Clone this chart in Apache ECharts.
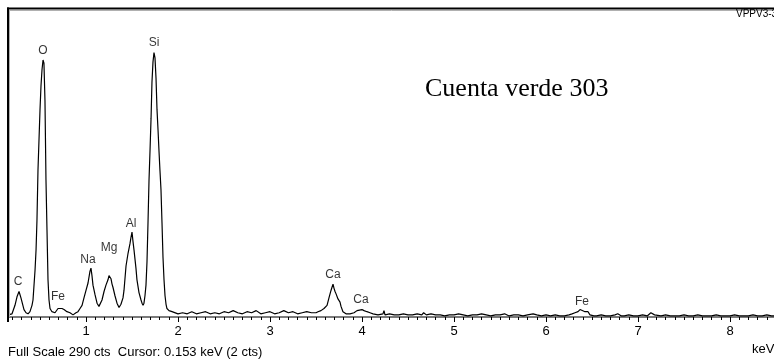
<!DOCTYPE html>
<html>
<head>
<meta charset="utf-8">
<script src="https://cdn.jsdelivr.net/npm/echarts@6/dist/echarts.min.js"></script>
<style>
  html, body { margin: 0; padding: 0; background: #fff; }
  #chart { width: 774px; height: 360px; }
</style>
</head>
<body>
<div id="chart"></div>
<script>
// EDS spectrum: [energy keV, counts]
const carbonOxygen = [
  [0.152,2],[0.196,3],[0.228,11],[0.25,19],[0.272,24],[0.293,18],[0.326,7],[0.348,4],[0.37,3],[0.391,5],
  [0.413,11],[0.424,16],[0.446,44],[0.457,63],[0.467,91],[0.478,138],[0.5,195],[0.511,218],[0.522,233],
  [0.533,242],[0.543,239],[0.554,204],[0.565,129],[0.576,82],[0.587,35],[0.598,16],[0.609,8],[0.63,5],[0.663,4]
];
const ironL = [
  [0.696,8],[0.717,9],[0.739,8],[0.761,7],[0.793,5],[0.826,4],[0.859,2],[0.891,4]
];
const sodiumMagnesium = [
  [0.913,5],[0.935,8],[0.957,11],[0.978,18],[1.0,25],[1.022,32],[1.043,43],[1.054,46],[1.065,39],[1.076,30],
  [1.098,21],[1.12,13],[1.141,10],[1.152,9],
  [1.174,16],[1.196,24],[1.217,30],[1.239,35],[1.25,39],[1.272,36],[1.283,31],[1.293,28],[1.315,20],[1.337,13],
  [1.359,9],[1.37,8]
];
const aluminiumSilicon = [
  [1.38,12],[1.402,18],[1.413,25],[1.435,48],[1.457,60],[1.478,69],[1.489,75],[1.5,80],[1.511,71],[1.522,63],
  [1.543,46],[1.554,35],[1.576,23],[1.598,16],[1.609,13],[1.62,11],
  [1.63,13],[1.641,20],[1.652,30],[1.663,52],[1.674,89],[1.685,129],[1.696,157],[1.707,187],[1.717,221],
  [1.728,240],[1.739,249],[1.75,244],[1.761,225],[1.772,195],[1.783,176],[1.793,157],[1.804,138],[1.815,120],
  [1.826,89],[1.837,56],[1.848,35],[1.859,20],[1.87,12],[1.88,8],[1.902,6],[1.935,5]
];
const backgroundMid = [
  [1.95,4],[2.0,3],[2.05,4],[2.1,3],[2.15,5],[2.2,3],[2.25,4],[2.3,5],[2.35,3],[2.4,4],[2.45,3],[2.5,5],
  [2.55,4],[2.6,6],[2.65,4],[2.7,3],[2.75,5],[2.8,4],[2.85,6],[2.9,3],[2.95,4],[3.0,5],[3.05,3],[3.1,4],
  [3.15,6],[3.2,4],[3.25,5],[3.3,3],[3.35,4],[3.4,5],[3.45,4],[3.5,4]
];
const calcium = [
  [3.522,5],[3.554,6],[3.587,8],[3.62,11],[3.641,18],[3.663,25],[3.674,28],[3.685,31],[3.696,27],[3.707,24],
  [3.717,22],[3.739,17],[3.761,14],[3.772,10],[3.793,5],[3.826,3],[3.87,3],[3.913,4],[3.946,6],[3.967,7],
  [4.0,7],[4.022,6],[4.054,5],[4.087,4],[4.12,3],[4.174,2],[4.228,3],[4.239,6],[4.25,2]
];
const backgroundHigh = [
  [4.3,3],[4.35,2],[4.4,2],[4.45,3],[4.5,2],[4.55,2],[4.6,3],[4.65,2],[4.67,4],[4.7,2],[4.75,3],[4.8,2],
  [4.85,2],[4.9,1],[4.95,2],[5.0,2],[5.05,3],[5.1,2],[5.15,1],[5.2,2],[5.25,2],[5.3,3],[5.35,2],[5.4,1],
  [5.45,2],[5.5,2],[5.55,3],[5.6,1],[5.65,2],[5.7,2],[5.75,1],[5.8,2],[5.86,3],[5.9,2],[5.95,1],[6.0,2],
  [6.05,1],[6.1,2],[6.15,1],[6.2,1],[6.25,2]
];
const ironK = [
  [6.283,3],[6.315,4],[6.348,5],[6.37,7],[6.391,6],[6.424,5],[6.457,5],[6.478,2]
];
const backgroundTail = [
  [6.52,1],[6.55,1],[6.6,2],[6.65,1],[6.7,1],[6.75,2],[6.78,3],[6.82,1],[6.85,1],[6.9,2],[6.95,1],[7.0,1],
  [7.05,2],[7.1,1],[7.14,4],[7.18,2],[7.2,1],[7.25,1],[7.3,2],[7.35,1],[7.4,1],[7.45,1],[7.5,2],[7.55,1],
  [7.6,1],[7.65,2],[7.7,1],[7.75,1],[7.8,1],[7.85,2],[7.9,1],[7.95,1],[8.0,1],[8.05,2],[8.1,1],[8.15,1],
  [8.2,1],[8.25,2],[8.3,1],[8.35,1],[8.4,2],[8.45,1],[8.5,1]
];

// Element line labels and where they sit (keV, counts)
const peakNames = ['C', 'O', 'Fe', 'Na', 'Mg', 'Al', 'Si', 'Ca', 'Ca', 'Fe'];
const peakKeV   = [0.261, 0.533, 0.696, 1.022, 1.25, 1.489, 1.739, 3.685, 3.989, 6.391];
const peakCts   = [33, 251, 19, 54, 65, 88, 258, 40, 16, 14];

const xTicksMin = 0, xTicksMax = 8.5, xInterval = 1;
const fullScale = 290;

const spectrum = [].concat(carbonOxygen, ironL, sodiumMagnesium, aluminiumSilicon,
  backgroundMid, calcium, backgroundHigh, ironK, backgroundTail);

const chart = echarts.init(document.getElementById('chart'), null, { renderer: 'canvas' });
const sans = 'Liberation Sans, Arial, sans-serif';

chart.setOption({
  animation: false,
  backgroundColor: '#fff',
  grid: { left: -6, right: -2, top: 9, bottom: 43, containLabel: false, outerBoundsMode: 'none' },
  xAxis: {
    type: 'value',
    min: xTicksMin, max: xTicksMax, interval: xInterval,
    axisLine: { show: true, lineStyle: { color: '#7a7a7a', width: 2 } },
    axisTick: { show: true, inside: false, length: 5, lineStyle: { color: '#000', width: 1 } },
    minorTick: { show: true, splitNumber: 10, length: 3, lineStyle: { color: '#000', width: 1 } },
    axisLabel: {
      color: '#000', fontFamily: sans, fontSize: 13, margin: 8,
      showMinLabel: false, showMaxLabel: false,
      formatter: v => (Number.isInteger(v) && v > 0 ? String(v) : '')
    },
    splitLine: { show: false }
  },
  yAxis: {
    type: 'value', min: 0, max: fullScale, show: false,
    splitLine: { show: false }
  },
  series: [
    {
      type: 'line',
      data: spectrum,
      showSymbol: false,
      lineStyle: { color: '#000', width: 1.2 },
      z: 3
    },
    {
      type: 'scatter',
      data: peakKeV.map((k, i) => ({ value: [k, peakCts[i]], name: peakNames[i] })),
      symbolSize: 0,
      label: {
        show: true, position: 'inside',
        formatter: p => p.name,
        color: '#000', fontFamily: sans, fontSize: 12
      },
      z: 4
    }
  ],
  graphic: [
    { type: 'rect', shape: { x: 0, y: 300, width: 7, height: 40 }, style: { fill: '#fff' }, z: 100 },
    { type: 'line', shape: { x1: 8, y1: 7.5, x2: 8, y2: 322 }, style: { stroke: '#000', lineWidth: 2 }, z: 101 },
    { type: 'line', shape: { x1: 9.5, y1: 10, x2: 9.5, y2: 317 }, style: { stroke: '#b0b0b0', lineWidth: 1 }, z: 101 },
    { type: 'line', shape: { x1: 7, y1: 8.5, x2: 774, y2: 8.5 }, style: { stroke: '#000', lineWidth: 2 }, z: 101 },
    { type: 'line', shape: { x1: 9, y1: 10.5, x2: 774, y2: 10.5 }, style: { stroke: '#b0b0b0', lineWidth: 1 }, z: 101 },
    { type: 'text', left: 736, top: 9, style: { text: 'VPPV3-3', fill: '#000', font: '10px ' + sans }, z: 102 },
    { type: 'text', left: 425, top: 76, style: { text: 'Cuenta verde 303', fill: '#000', font: '26px "Liberation Serif", "Times New Roman", serif' }, z: 102 },
    { type: 'text', left: 8, top: 346, style: { text: 'Full Scale 290 cts  Cursor: 0.153 keV (2 cts)', fill: '#000', font: '13px ' + sans }, z: 102 },
    { type: 'text', left: 752, top: 343, style: { text: 'keV', fill: '#000', font: '13px ' + sans }, z: 102 }
  ]
});
</script>
</body>
</html>
